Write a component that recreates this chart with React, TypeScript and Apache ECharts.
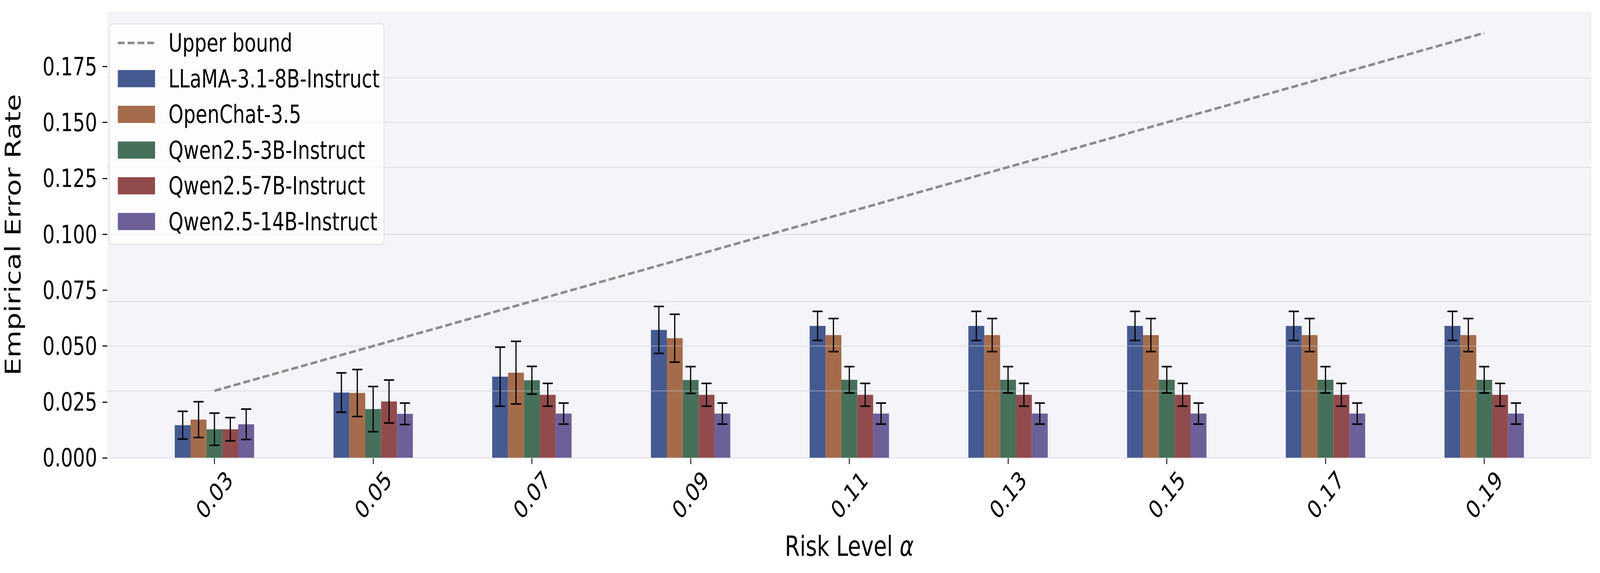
import React, { useEffect, useRef } from "react";
import * as echarts from "echarts";

const FONT = "DejaVu Sans";
const REF_W = 5368;
const REF_H = 1468;

const alphas = ["0.03", "0.05", "0.07", "0.09", "0.11", "0.13", "0.15", "0.17", "0.19"];
const upperBound = [0.03, 0.05, 0.07, 0.09, 0.11, 0.13, 0.15, 0.17, 0.19];
const yTicks = [0, 0.025, 0.05, 0.075, 0.1, 0.125, 0.15, 0.175];

const modelNames = [
  "LLaMA-3.1-8B-Instruct",
  "OpenChat-3.5",
  "Qwen2.5-3B-Instruct",
  "Qwen2.5-7B-Instruct",
  "Qwen2.5-14B-Instruct",
];
const modelColors = ["#445a91", "#a56c4b", "#46705a", "#924b4d", "#6d5f98"];

const llama = [0.0146, 0.0292, 0.0363, 0.0572, 0.059, 0.059, 0.059, 0.059, 0.059];
const llamaErr = [0.0062, 0.0088, 0.0132, 0.0105, 0.0065, 0.0065, 0.0065, 0.0065, 0.0065];
const openchat = [0.0171, 0.029, 0.0381, 0.0535, 0.0549, 0.0549, 0.0549, 0.0549, 0.0549];
const openchatErr = [0.008, 0.0105, 0.014, 0.0107, 0.0074, 0.0074, 0.0074, 0.0074, 0.0074];
const qwen3 = [0.0128, 0.0218, 0.0347, 0.0348, 0.0349, 0.0349, 0.0349, 0.0349, 0.0349];
const qwen3Err = [0.0072, 0.0101, 0.0062, 0.006, 0.0059, 0.0059, 0.0059, 0.0059, 0.0059];
const qwen7 = [0.0128, 0.0252, 0.0282, 0.0282, 0.0282, 0.0282, 0.0282, 0.0282, 0.0282];
const qwen7Err = [0.0052, 0.0096, 0.0051, 0.0051, 0.0051, 0.0051, 0.0051, 0.0051, 0.0051];
const qwen14 = [0.015, 0.0197, 0.0198, 0.0198, 0.0198, 0.0198, 0.0198, 0.0198, 0.0198];
const qwen14Err = [0.0068, 0.0048, 0.0047, 0.0047, 0.0047, 0.0047, 0.0047, 0.0047, 0.0047];

const modelValues = [llama, openchat, qwen3, qwen7, qwen14];
const modelErrors = [llamaErr, openchatErr, qwen3Err, qwen7Err, qwen14Err];

const BAR_W = 0.1;
const tickIdx = alphas.map((_, i) => i);

const UB_LINE = { color: "#8c8c8c", width: 6.5, type: [23, 10] as number[] };

function buildOption() {
  const barSeries = modelNames.map((name, s) => {
    const off = (s - 2) * BAR_W;
    const color = modelColors[s];
    const ser: any = {
      name,
      type: "custom",
      z: 2,
      itemStyle: { color },
      data: modelValues[s].map((v, i) => [i + off, v]),
      renderItem: (params: any, api: any) => {
        const x = api.value(0);
        const y = api.value(1);
        const p0 = api.coord([x - BAR_W / 2, 0]);
        const p1 = api.coord([x + BAR_W / 2, y]);
        return {
          type: "rect",
          shape: { x: p0[0], y: p1[1], width: p1[0] - p0[0], height: p0[1] - p1[1] },
          style: { fill: color },
        };
      },
    };
    if (s === modelNames.length - 1) {
      ser.markLine = {
        silent: true,
        symbol: "none",
        z: 5,
        label: { show: false },
        lineStyle: { color: "rgba(200,200,208,0.42)", width: 3, type: "solid" },
        data: yTicks.map((t) => ({ yAxis: t })),
      };
    }
    return ser;
  });

  const errData: any[] = [];
  modelNames.forEach((_, s) => {
    const off = (s - 2) * BAR_W;
    modelValues[s].forEach((v, i) => errData.push([i + off, v, modelErrors[s][i]]));
  });

  const errSeries = {
    name: "err",
    type: "custom",
    z: 6,
    silent: true,
    data: errData,
    renderItem: (params: any, api: any) => {
      const x = api.value(0);
      const v = api.value(1);
      const e = api.value(2);
      const top = api.coord([x, v + e]);
      const bot = api.coord([x, v - e]);
      const cx = top[0];
      const hw = 17;
      const st = { stroke: "#000", lineWidth: 4, fill: "none" };
      return {
        type: "group",
        children: [
          { type: "line", shape: { x1: cx, y1: top[1], x2: cx, y2: bot[1] }, style: st },
          { type: "line", shape: { x1: cx - hw, y1: top[1], x2: cx + hw, y2: top[1] }, style: st },
          { type: "line", shape: { x1: cx - hw, y1: bot[1], x2: cx + hw, y2: bot[1] }, style: st },
        ],
      };
    },
  };

  const lineSeries = {
    name: "Upper bound",
    type: "line",
    z: 7,
    symbol: "none",
    showSymbol: false,
    lineStyle: { ...UB_LINE },
    itemStyle: { color: "rgba(0,0,0,0)", borderWidth: 0 },
    data: upperBound.map((v, i) => [i, v]),
  };

  return {
    animation: false,
    backgroundColor: "#ffffff",
    grid: {
      left: 336,
      right: 29,
      top: 30,
      bottom: 295,
      show: true,
      backgroundColor: "#f4f4f9",
      borderWidth: 0,
    },
    legend: {
      orient: "vertical",
      left: 367,
      top: 61,
      z: 20,
      itemWidth: 125,
      itemHeight: 44,
      itemGap: 27.5,
      padding: [17, 14, 27, 25],
      backgroundColor: "rgba(255,255,255,0.8)",
      borderColor: "#e4e4e8",
      borderWidth: 3,
      borderRadius: 10,
      selectedMode: false,
      textStyle: {
        fontSize: 64,
        fontFamily: FONT,
        color: "#000",
        lineHeight: 64,
        padding: [0, 0, 0, 40],
      },
      data: [
        {
          name: "Upper bound",
          itemStyle: { color: "rgba(0,0,0,0)", borderWidth: 0 },
          lineStyle: { ...UB_LINE, opacity: 1 },
        },
        ...modelNames.map((n) => ({ name: n, icon: "rect" })),
      ],
    },
    xAxis: {
      type: "value",
      min: -0.675,
      max: 8.675,
      splitLine: { show: false },
      axisLine: { show: false, onZero: false },
      axisTick: {
        show: true,
        customValues: tickIdx,
        length: 16,
        lineStyle: { color: "#111", width: 3 },
      },
      axisLabel: {
        customValues: tickIdx,
        formatter: (v: number) => alphas[Math.round(v)],
        rotate: 45,
        align: "center",
        verticalAlign: "middle",
        margin: 95,
        fontSize: 64,
        fontFamily: FONT,
        color: "#000",
      },
      name: "Risk Level {a|α}",
      nameLocation: "middle",
      nameGap: 190,
      nameMoveOverlap: false,
      nameTextStyle: {
        fontSize: 72,
        fontFamily: FONT,
        color: "#000",
        rich: { a: { fontSize: 72, fontFamily: FONT, fontStyle: "italic", color: "#000" } },
      },
    },
    yAxis: {
      type: "value",
      min: 0,
      max: 0.1995,
      splitLine: { show: false },
      axisLine: { show: false, onZero: false },
      axisTick: {
        show: true,
        customValues: yTicks,
        length: 16,
        lineStyle: { color: "#111", width: 3 },
      },
      axisLabel: {
        customValues: yTicks,
        formatter: (v: number) => v.toFixed(3),
        margin: 34,
        fontSize: 64,
        fontFamily: FONT,
        color: "#000",
      },
      name: "Empirical Error Rate",
      nameLocation: "middle",
      nameGap: 280,
      nameMoveOverlap: false,
      nameTextStyle: { fontSize: 72, fontFamily: FONT, color: "#000" },
    },
    series: [...barSeries, errSeries, lineSeries],
  };
}

function getViewport() {
  if (typeof window === "undefined") return { w: REF_W, h: REF_H };
  return { w: window.innerWidth || REF_W, h: window.innerHeight || REF_H };
}

export default function App() {
  const ref = useRef<HTMLDivElement>(null);
  const { w, h } = getViewport();
  const sx = Math.min(1, w / REF_W);
  const sy = Math.min(1, h / REF_H);
  useEffect(() => {
    if (!ref.current) return;
    const chart = echarts.init(ref.current, null, { renderer: "svg" });
    chart.setOption(buildOption() as any);
    return () => chart.dispose();
  }, []);
  return (
    <div
      style={{
        position: "absolute",
        left: 0,
        top: 0,
        width: REF_W * sx,
        height: REF_H * sy,
        overflow: "hidden",
      }}
    >
      <div
        ref={ref}
        style={{
          width: REF_W,
          height: REF_H,
          transform: `scale(${sx}, ${sy})`,
          transformOrigin: "0 0",
        }}
      />
    </div>
  );
}
